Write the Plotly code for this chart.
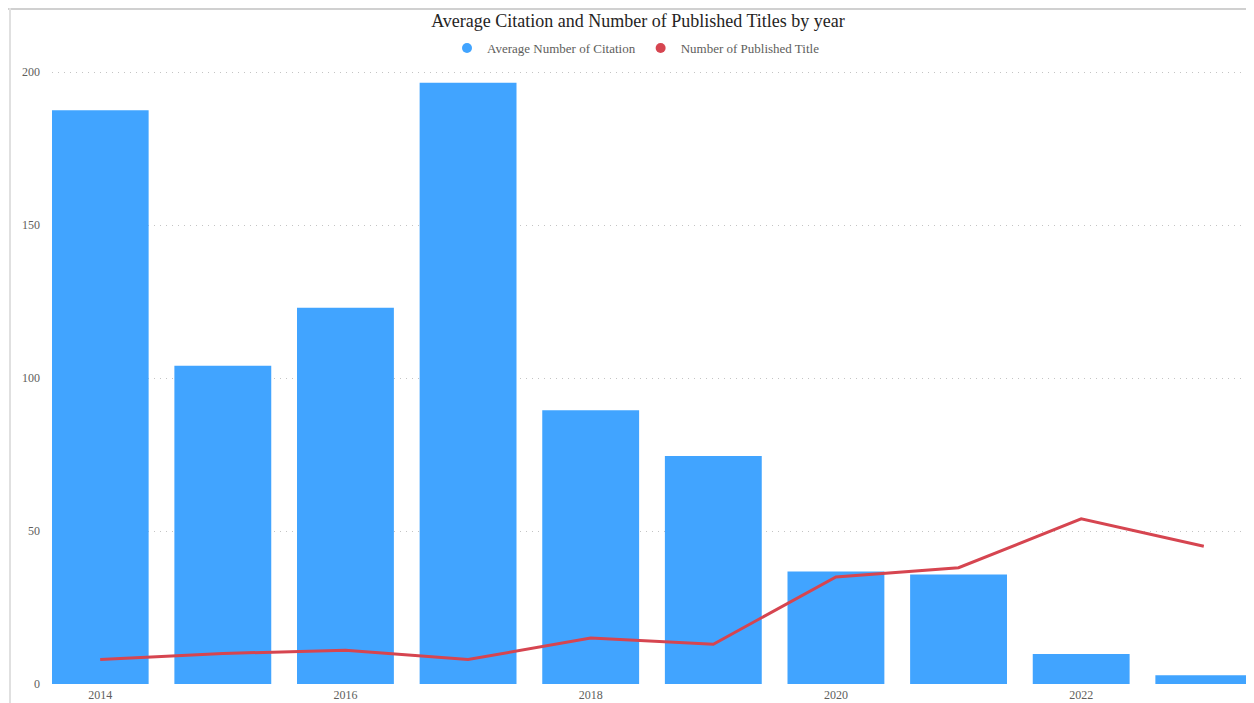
import plotly.graph_objects as go

years = [2014, 2015, 2016, 2017, 2018, 2019, 2020, 2021, 2022, 2023]
avg_citation = [187.5, 104, 123, 196.5, 89.5, 74.5, 36.8, 35.8, 9.8, 2.9]
published_titles = [8, 10, 11, 8, 15, 13, 35, 38, 54, 45]
x_ticks = [2014, 2016, 2018, 2020, 2022]
y_ticks = [0, 50, 100, 150, 200]

BLUE = "#41A4FF"
RED = "#D64550"
FONT = "Liberation Serif"

W, H = 1246, 695
ML, MR, MT, MB = 44, 2, 10, 19
PW, PH = W - ML - MR, H - MT - MB
PLOT_TOP = 58  # figure px

fig = go.Figure()
fig.add_trace(go.Bar(x=years, y=avg_citation, marker=dict(color=BLUE, line=dict(width=0)),
                     name="Average Number of Citation", showlegend=False))
fig.add_trace(go.Scatter(x=years, y=published_titles, mode="lines",
                         line=dict(color=RED, width=3),
                         name="Number of Published Title", showlegend=False))
# legend entries with circle markers
fig.add_trace(go.Scatter(x=[None], y=[None], mode="markers",
                         marker=dict(color=BLUE, size=10, symbol="circle"),
                         name="Average Number of Citation"))
fig.add_trace(go.Scatter(x=[None], y=[None], mode="markers",
                         marker=dict(color=RED, size=10, symbol="circle"),
                         name="Number of Published Title"))

fig.update_layout(
    width=W, height=H,
    margin=dict(l=ML, r=MR, t=MT, b=MB, autoexpand=False),
    paper_bgcolor="white", plot_bgcolor="white",
    bargap=0.21,
    font=dict(family=FONT, color="#605E5C"),
    title=dict(text="Average Citation and Number of Published Titles by year",
               x=630 / W, xanchor="center", y=1 - 13 / H, yanchor="middle",
               font=dict(family=FONT, size=18, color="#252423")),
    legend=dict(orientation="h", x=(628 - ML) / PW, xanchor="center",
                y=(H - MB - 40) / PH, yanchor="middle",
                font=dict(family=FONT, size=13, color="#605E5C"),
                itemwidth=30, bgcolor="rgba(0,0,0,0)"),
    xaxis=dict(range=[2014 - 0.393, 2023 + 0.393], tickvals=x_ticks,
               ticktext=[str(v) for v in x_ticks], showgrid=False, zeroline=False,
               showline=False, ticks="", ticklabelstandoff=2,
               tickfont=dict(size=12, color="#605E5C")),
    yaxis=dict(range=[0, 202], tickvals=y_ticks, showgrid=True, gridcolor="#C4C4C4",
               griddash="1px,5px", gridwidth=1, zeroline=False, showline=False, ticks="",
               domain=[0, (H - MB - PLOT_TOP) / PH],
               tickfont=dict(size=12, color="#605E5C"), ticklabelstandoff=11),
)

# frame lines (visual border)
top_y = (H - MB) / PH
fig.add_shape(type="line", xref="paper", yref="paper", x0=-ML / PW, x1=1.0 + MR / PW,
              y0=top_y - 1 / PH, y1=top_y - 1 / PH,
              line=dict(color="#D0D0D0", width=2))
fig.add_shape(type="line", xref="paper", yref="paper", x0=(2 - ML) / PW, x1=(2 - ML) / PW,
              y0=-MB / PH, y1=top_y,
              line=dict(color="#E0E0E0", width=2))

fig.write_html("out.html")
